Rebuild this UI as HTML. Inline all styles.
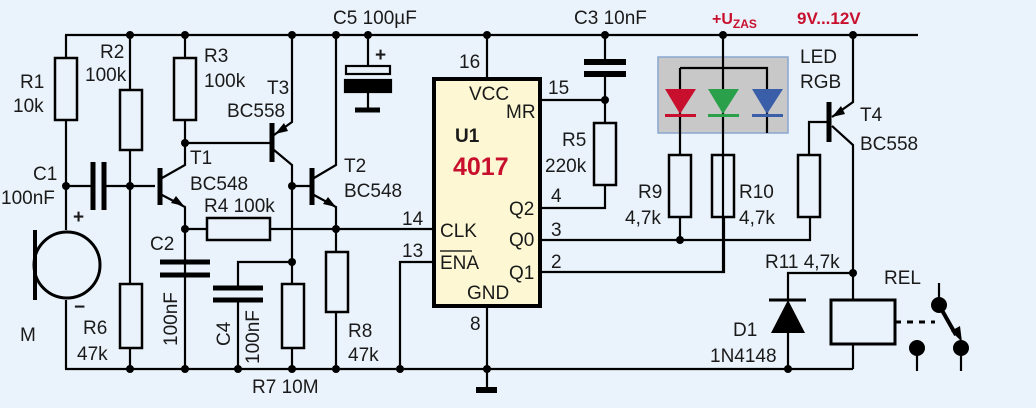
<!DOCTYPE html>
<html><head><meta charset="utf-8"><style>
html,body{margin:0;padding:0;background:#eaf3fb;}
svg{display:block}
text{font-family:"Liberation Sans",sans-serif;font-size:19px;fill:#1a1a1a}
</style></head><body>
<svg width="1036" height="408" viewBox="0 0 1036 408" xmlns="http://www.w3.org/2000/svg">
<rect width="1036" height="408" fill="#eaf3fb"/>
<g stroke="#000" stroke-width="2.2" fill="none">
<path d="M65 35H918"/>
<path d="M65 369H853"/>
<path d="M66 35V58M66 120V230M66 300V369"/>
<rect x="55" y="58" width="22" height="62" stroke-width="2.5"/>
<circle cx="67" cy="265" r="33" stroke-width="3"/>
<path d="M35 230V300" stroke-width="4"/>
<path d="M66 186H92M104 186H155"/>
<path d="M93 162V210M104 162V210" stroke-width="5"/>
<path d="M130 35V90M130 150V284M130 348V369"/>
<rect x="120" y="90" width="22" height="60" stroke-width="2.5"/>
<rect x="120" y="284" width="22" height="64" stroke-width="2.5"/>
<path d="M160 168V205" stroke-width="5"/>
<path d="M162 178L185 165V143M162 195L185 207V369"/>
<path d="M185 35V58M185 120V143H272"/>
<rect x="174" y="58" width="22" height="62" stroke-width="2.5"/>
<path d="M160 262H210M160 275H210" stroke-width="5"/>
<path d="M185 229H207M270 229H434"/>
<rect x="207" y="218" width="63" height="22" stroke-width="2.5"/>
<path d="M272 123V162" stroke-width="5"/>
<path d="M274 135L292 122V35M274 150L292 165V284M292 348V369"/>
<rect x="282" y="284" width="22" height="64" stroke-width="2.5"/>
<path d="M292 186H312"/>
<path d="M312 168V205" stroke-width="5"/>
<path d="M314 178L336 165V35M314 195L336 207V252M336 312V369"/>
<rect x="326" y="252" width="22" height="60" stroke-width="2.5"/>
<path d="M238 288V262H292M238 300V369"/>
<path d="M213 288H263M213 300H263" stroke-width="5"/>
<path d="M368 35V66M368 92V108"/>
<rect x="346" y="66" width="44" height="8" stroke-width="2.2"/>
<rect x="345" y="80" width="46" height="12" fill="#000"/>
<path d="M355 110H380" stroke-width="5"/>
<path d="M400 369V262H434"/>
<path d="M487 35V78M487 307V390"/>
<path d="M476 390H497" stroke-width="6"/>
<path d="M540 100H605M540 208H605V185M540 240H810V217M540 272H724V217"/>
<path d="M605 35V61M605 73V123"/>
<path d="M584 62H626M584 74H626" stroke-width="6"/>
<rect x="594" y="123" width="22" height="62" stroke-width="2.5"/>
</g>
<rect x="434" y="79" width="106" height="227" fill="#fdf8d3" stroke="#000" stroke-width="4"/>
<rect x="658" y="57" width="130" height="76" fill="#c8c8c8" stroke="#8aa6cf" stroke-width="1.5"/>
<g stroke="#000" stroke-width="2.2" fill="none">
<path d="M723 35V272M680 68H767V133M680 68V155M680 217V240"/>
<rect x="669" y="155" width="22" height="62" stroke-width="2.5"/>
<rect x="712" y="155" width="22" height="62" stroke-width="2.5"/>
<rect x="798" y="155" width="22" height="62" stroke-width="2.5"/>
<path d="M809 155V122H829"/>
<path d="M829 102V142" stroke-width="5"/>
<path d="M853 35V102L832 117M832 126L853 145V300M853 345V369"/>
<rect x="831" y="300" width="64" height="44" stroke-width="3"/>
<path d="M853 273H788V300M788 333V369"/>
<path d="M769 300H806" stroke-width="3"/>
<path d="M895 322H935" stroke-dasharray="6,6" stroke-width="3"/>
<path d="M939 283V305M917 348V371M961 348V371"/>
<path d="M939 305L956 335" stroke-width="4"/>
</g>
<g>
<polygon points="665,89 696,89 680,114" fill="#c8102e"/><rect x="665" y="114" width="31" height="3" fill="#c8102e"/>
<polygon points="708,89 739,89 723,114" fill="#2aa04a"/><rect x="708" y="114" width="31" height="3" fill="#2aa04a"/>
<polygon points="752,89 783,89 767,114" fill="#3a5fa8"/><rect x="752" y="114" width="31" height="3" fill="#3a5fa8"/>
<polygon points="788,300 771,333 805,333" fill="#000"/>
<circle cx="939" cy="305" r="8"/><circle cx="917" cy="348" r="8"/><circle cx="961" cy="348" r="8"/>
<polygon points="962,342 951,331 960,326"/>
<polygon points="184,206 171,203 176,196"/>
<polygon points="336,207 323,204 328,197"/>
<polygon points="275,134 284,123 288,131"/>
<polygon points="832,117 841,106 845,114"/>
<g fill="#000">
<circle cx="130" cy="35" r="4"/><circle cx="185" cy="35" r="4"/><circle cx="292" cy="35" r="4"/><circle cx="336" cy="35" r="4"/><circle cx="368" cy="35" r="4"/><circle cx="487" cy="35" r="4"/><circle cx="605" cy="35" r="4"/><circle cx="723" cy="35" r="4"/><circle cx="853" cy="35" r="4"/>
<circle cx="66" cy="186" r="4"/><circle cx="130" cy="186" r="4"/><circle cx="185" cy="143" r="4"/><circle cx="185" cy="229" r="4"/><circle cx="292" cy="186" r="4"/><circle cx="292" cy="262" r="4"/><circle cx="336" cy="229" r="4"/>
<circle cx="130" cy="369" r="4"/><circle cx="185" cy="369" r="4"/><circle cx="238" cy="369" r="4"/><circle cx="292" cy="369" r="4"/><circle cx="336" cy="369" r="4"/><circle cx="400" cy="369" r="4"/><circle cx="487" cy="369" r="4"/><circle cx="788" cy="369" r="4"/>
<circle cx="605" cy="100" r="4"/><circle cx="680" cy="240" r="4"/><circle cx="853" cy="273" r="4"/>
</g>
</g>
<text x="20" y="88">R1</text><text x="13" y="112">10k</text>
<text x="33" y="180">C1</text><text x="1" y="204">100nF</text>
<text x="73" y="223" font-weight="bold">+</text><text x="74" y="313" font-weight="bold">−</text>
<text x="20" y="341">M</text>
<text x="100" y="58">R2</text><text x="85" y="81">100k</text>
<text x="204" y="62">R3</text><text x="204" y="87">100k</text>
<text x="267" y="94">T3</text><text x="227" y="117">BC558</text>
<text x="190" y="164">T1</text><text x="190" y="190">BC548</text>
<text x="344" y="172">T2</text><text x="344" y="197">BC548</text>
<text x="204" y="212">R4 100k</text>
<text x="150" y="250">C2</text>
<text transform="translate(177,346) rotate(-90)">100nF</text>
<text transform="translate(230,346) rotate(-90)">C4</text>
<text transform="translate(259,364) rotate(-90)">100nF</text>
<text x="83" y="334">R6</text><text x="77" y="360">47k</text>
<text x="348" y="337">R8</text><text x="348" y="361">47k</text>
<text x="252" y="393">R7 10M</text>
<text x="333" y="24">C5 100µF</text>
<text x="375" y="61" font-weight="bold" font-size="16">+</text>
<text x="574" y="24">C3 10nF</text>
<text x="712" y="24" style="fill:#c8102e;font-weight:bold;font-size:16px">+U<tspan font-size="12" dy="4">ZAS</tspan></text>
<text x="797" y="24" style="fill:#c8102e;font-weight:bold;font-size:17px">9V...12V</text>
<text x="800" y="63">LED</text><text x="800" y="88">RGB</text>
<text x="860" y="121">T4</text><text x="860" y="150">BC558</text>
<text x="562" y="146">R5</text><text x="545" y="172">220k</text>
<text x="638" y="198">R9</text><text x="625" y="224">4,7k</text>
<text x="739" y="198">R10</text><text x="739" y="224">4,7k</text>
<text x="765" y="268">R11 4,7k</text>
<text x="884" y="284">REL</text>
<text x="733" y="336">D1</text><text x="710" y="362">1N4148</text>
<text x="459" y="68" font-size="17">16</text><text x="548" y="94" font-size="17">15</text>
<text x="551" y="202" font-size="17">4</text><text x="551" y="236" font-size="17">3</text><text x="551" y="268" font-size="17">2</text>
<text x="402" y="225" font-size="17">14</text><text x="402" y="257" font-size="17">13</text>
<text x="470" y="330" font-size="17">8</text>
<text x="469" y="100" font-size="17">VCC</text><text x="506" y="118" font-size="17">MR</text>
<text x="455" y="142" font-weight="bold">U1</text>
<text x="453" y="175" style="fill:#c8102e;font-weight:bold;font-size:25px">4017</text>
<text x="509" y="215" font-size="17">Q2</text><text x="509" y="246" font-size="17">Q0</text><text x="509" y="279" font-size="17">Q1</text>
<text x="440" y="237" font-size="17">CLK</text>
<text x="440" y="269" font-size="17">ENA</text>
<path d="M440 251H472" stroke="#000" stroke-width="1.3"/>
<text x="467" y="299" font-size="17">GND</text>
</svg>
</body></html>
